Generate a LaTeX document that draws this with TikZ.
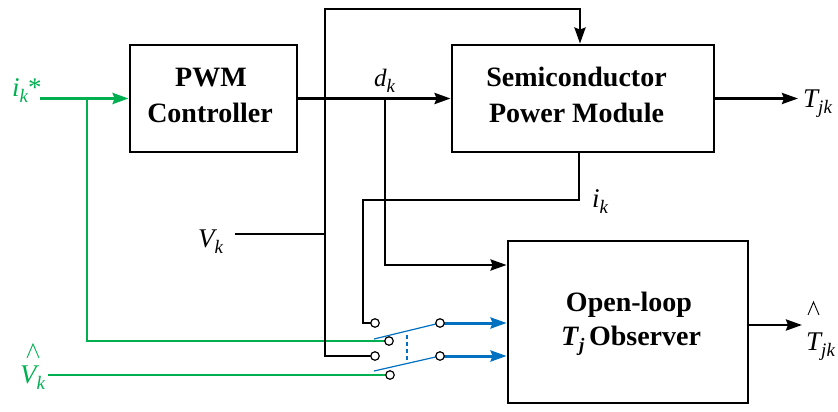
\documentclass[tikz,border=0pt]{standalone}
\usepackage{fontspec}
\setmainfont{Liberation Serif}
\usetikzlibrary{arrows.meta}
\definecolor{grn}{RGB}{0,176,80}
\definecolor{blu}{RGB}{0,112,192}
\newcommand{\lbl}[3][27]{{\fontsize{#1}{30}\selectfont\itshape #2\raisebox{-6pt}{\fontsize{19}{19}\selectfont #3}}}
\begin{document}
\begin{tikzpicture}[x=1pt,y=-1pt,
  box/.style={draw, line width=2.8pt, inner sep=0},
  boxtext/.style={font=\fontsize{28}{35}\selectfont\bfseries, anchor=base, inner sep=0},
  lab/.style={anchor=base west, inner sep=0},
  wire/.style={line width=2.8pt},
  arr/.style={wire, -{Stealth[length=16pt,width=11pt,inset=2pt]}},
  gwire/.style={line width=2.8pt, draw=grn},
  garr/.style={gwire, -{Stealth[length=16pt,width=11pt,inset=2pt]}},
  barr/.style={line width=3pt, draw=blu, -{Stealth[length=16pt,width=11pt,inset=2pt]}},
  blade/.style={line width=1.2pt, draw=blu},
  contact/.style={circle, draw, fill=white, line width=1.2pt, inner sep=0, minimum size=8.5pt},
  hat/.style={line width=0.9pt}
]
\useasboundingbox (0,0) rectangle (838,412);

% boxes
\node[box, minimum width=167pt, minimum height=107pt] (pwm) at (213.5,98.5) {};
\node[box, minimum width=262pt, minimum height=107pt] (spm) at (583,98.5) {};
\node[box, minimum width=240pt, minimum height=162pt] (obs) at (628,322) {};

\node[boxtext] (t1) at (211,86) {PWM};
\node[boxtext] (t2) at (210,122) {Controller};
\node[boxtext] (t3) at (576.5,87) {Semiconductor};
\node[boxtext] (t4) at (576.5,122) {Power Module};
\node[boxtext] (t5) at (629,311) {Open-loop};
\node[boxtext] (t6) at (631,345) {\textit{T}\raisebox{-6pt}{\fontsize{19}{19}\selectfont\itshape j}\,Observer};

% labels
\node[lab, text=grn] (lik) at (12,96) {\lbl{i}{k}{\fontsize{27}{30}\selectfont *}};
\node[lab] (lvk) at (198,247) {\lbl{V}{k}};
\node[lab, text=grn] (lvh) at (20,383) {\lbl{V}{k}};
\draw[hat, draw=grn] (27,358) -- (33,344) -- (39,358);
\node[lab] (ldk) at (374,86) {\lbl[25]{d}{k}};
\node[lab] (lik2) at (592,207) {\lbl{i}{k}};
\node[lab] (ltjk) at (803,107) {\lbl{T}{jk}};
\node[lab] (lthat) at (806,350) {\lbl{T}{jk}};
\draw[hat] (808,315) -- (813.5,302) -- (819,315);

% contacts positions
\coordinate (cA) at (375,323);
\coordinate (cP1) at (389,341);
\coordinate (cB) at (375,356);
\coordinate (cP2) at (390,375);
\coordinate (cR1) at (440,323);
\coordinate (cR2) at (440,356);

% green wires
\coordinate (ikin) at (40,98.5);
\coordinate (gb) at (87,98.5);
\draw[garr] (ikin) -- (pwm.west);
\draw[gwire] (gb) |- (cP1);
\coordinate (vhin) at (48,375);
\draw[gwire] (vhin) -- (cP2);

% V_k and top feed
\coordinate (vkin) at (235,234);
\coordinate (vtop) at (325,9);
\coordinate (vbot) at (325,356);
\coordinate (tx) at (580,9);
\draw[wire] (vkin) -- (vkin -| vtop);
\draw[arr] (cB) -- (vbot) -- (vtop) -- (tx) -- (tx |- spm.north);

% d_k
\coordinate (dkb) at (385,98.5);
\coordinate (dk2) at (385,265);
\draw[arr] (pwm.east) -- (spm.west);
\draw[arr] (dkb) -- (dk2) -- (dk2 -| obs.west);

% i_k
\coordinate (ik1) at (579,200);
\coordinate (ik2) at (363,200);
\draw[wire] (spm.south -| ik1) -- (ik1) -- (ik2) |- (cA);

% outputs
\coordinate (o1) at (798,98.5);
\coordinate (o2) at (802,325);
\draw[arr] (spm.east) -- (o1);
\draw[arr] (obs.east |- o2) -- (o2);

% switch
\coordinate (b1) at (374,339);
\coordinate (b2) at (374,371);
\draw[blade] (b1) -- (cR1);
\draw[blade] (b2) -- (cR2);
\draw[blade, dash pattern=on 4pt off 3pt] (407,335) -- (407,363);
\draw[barr] (cR1) -- (cR1 -| obs.west);
\draw[barr] (cR2) -- (cR2 -| obs.west);

\node[contact] (A) at (cA) {};
\node[contact] (P1) at (cP1) {};
\node[contact] (B) at (cB) {};
\node[contact] (P2) at (cP2) {};
\node[contact] (R1) at (cR1) {};
\node[contact] (R2) at (cR2) {};
\end{tikzpicture}
\end{document}
